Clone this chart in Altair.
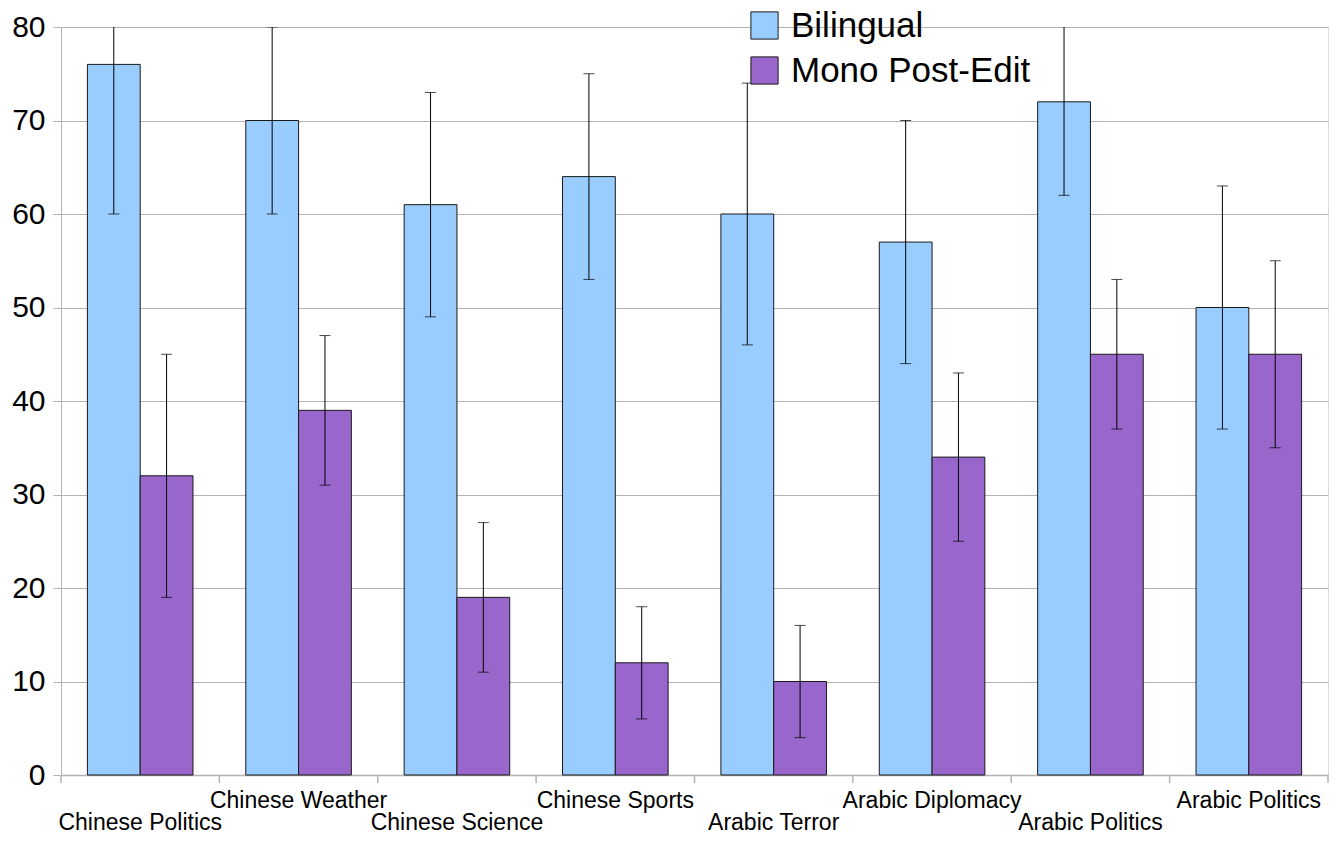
import altair as alt
import pandas as pd
import json

categories = ["Chinese Politics", "Chinese Weather", "Chinese Science", "Chinese Sports",
              "Arabic Terror", "Arabic Diplomacy", "Arabic Politics", "Arabic Politics"]
series_names = ["Bilingual", "Mono Post-Edit"]
bilingual = [76, 70, 61, 64, 60, 57, 72, 50]
bilingual_lo = [60, 60, 49, 53, 46, 44, 62, 37]
bilingual_hi = [92, 80, 73, 75, 74, 70, 82, 63]
mono = [32, 39, 19, 12, 10, 34, 45, 45]
mono_lo = [19, 31, 11, 6, 4, 25, 37, 35]
mono_hi = [45, 47, 27, 18, 16, 43, 53, 55]
y_ticks = [0, 10, 20, 30, 40, 50, 60, 70, 80]

rows = []
for i, c in enumerate(categories):
    rows.append({"key": i, "label": c, "series": series_names[0], "value": bilingual[i],
                 "lo": bilingual_lo[i], "hi": bilingual_hi[i]})
    rows.append({"key": i, "label": c, "series": series_names[1], "value": mono[i],
                 "lo": mono_lo[i], "hi": mono_hi[i]})
df = pd.DataFrame(rows)
bounds = pd.DataFrame({"b": list(range(len(categories) + 1))})

W, H = 1267, 748
FONT = "Liberation Sans"
GRID = "#b3b3b3"
EDGE = "#1a1a1a"

labels_js = json.dumps(categories)
label_expr = f"datum.value % 2 == 0 ? [' ', {labels_js}[datum.value]] : {labels_js}[datum.value]"

x_enc = alt.X("key:O", scale=alt.Scale(paddingInner=1/3, paddingOuter=1/6),
              axis=alt.Axis(title=None, ticks=False, labelAngle=0, labelExpr=label_expr,
                            labelFontSize=23, labelFont=FONT, labelColor="#000000",
                            labelPadding=14, labelLineHeight=22, labelBaseline="top",
                            domainColor=GRID, domainWidth=1.5, grid=False))
xo = alt.XOffset("series:N", sort=series_names, scale=alt.Scale(paddingInner=0, paddingOuter=0))
y_scale = alt.Scale(domain=[0, 80], nice=False)
y_enc = alt.Y("value:Q", scale=y_scale,
              axis=alt.Axis(title=None, values=y_ticks, labelFontSize=30, labelFont=FONT,
                            labelColor="#000000", labelPadding=8, tickSize=8, tickColor=GRID,
                            domainColor=GRID, gridColor=GRID, gridWidth=1))

bars = alt.Chart(df).mark_bar(stroke=EDGE, strokeWidth=1).encode(
    x=x_enc, xOffset=xo, y=y_enc,
    color=alt.Color("series:N", sort=series_names,
                    scale=alt.Scale(domain=series_names, range=["#99ccff", "#9966cc"]),
                    legend=alt.Legend(title=None, orient="none", legendX=686, legendY=-19,
                                      symbolType="square", symbolSize=740, symbolStrokeColor=EDGE,
                                      symbolStrokeWidth=1, labelFontSize=35, labelFont=FONT,
                                      labelColor="#000000", labelOffset=9, rowPadding=9,
                                      padding=0, labelLimit=500)),
)

err = alt.Chart(df).mark_rule(color="#000000", strokeWidth=1, clip=True).encode(
    x=alt.X("key:O"), xOffset=alt.XOffset("series:N", sort=series_names),
    y=alt.Y("lo:Q", scale=y_scale), y2="hi:Q",
)
cap_lo = alt.Chart(df).mark_tick(color="#000000", thickness=1, size=11, clip=True).encode(
    x=alt.X("key:O"), xOffset=alt.XOffset("series:N", sort=series_names),
    y=alt.Y("lo:Q", scale=y_scale),
)
cap_hi = alt.Chart(df).mark_tick(color="#000000", thickness=1, size=11, clip=True).encode(
    x=alt.X("key:O"), xOffset=alt.XOffset("series:N", sort=series_names),
    y=alt.Y("hi:Q", scale=y_scale),
)

main = alt.layer(bars, err, cap_lo, cap_hi)

ticks = alt.Chart(bounds).mark_rule(color=GRID, strokeWidth=1.5).encode(
    x=alt.X("b:Q", scale=alt.Scale(domain=[0, len(categories)], nice=False), axis=None),
    y=alt.value(H), y2=alt.value(H + 8),
)

chart = alt.layer(main, ticks).resolve_scale(x="independent").properties(
    width=W, height=H,
    autosize=alt.AutoSizeParams(type="none"),
    padding={"left": 53, "top": 19, "right": 1, "bottom": 60},
).configure_view(stroke=GRID, strokeWidth=1.5).configure(background="#ffffff")

chart.save("out.html", embed_options={"renderer": "svg", "actions": False})
